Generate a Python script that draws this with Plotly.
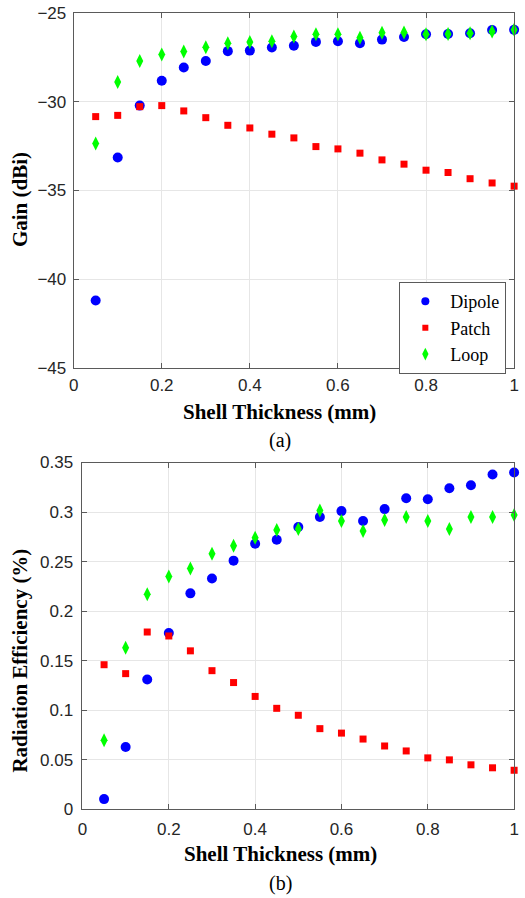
import plotly.graph_objects as go

thickness = [0.05, 0.1, 0.15, 0.2, 0.25, 0.3, 0.35, 0.4, 0.45, 0.5,
             0.55, 0.6, 0.65, 0.7, 0.75, 0.8, 0.85, 0.9, 0.95, 1.0]

# gain (dBi)
gain_dipole = [-41.2, -33.15, -30.22, -28.82, -28.07, -27.71, -27.15, -27.12, -26.95, -26.85,
               -26.63, -26.59, -26.7, -26.5, -26.35, -26.2, -26.18, -26.14, -25.96, -25.95]
gain_patch = [-30.84, -30.77, -30.28, -30.22, -30.52, -30.9, -31.33, -31.48, -31.83, -32.04,
              -32.53, -32.66, -32.9, -33.28, -33.52, -33.86, -33.99, -34.34, -34.58, -34.76]
gain_loop = [-32.36, -28.89, -27.71, -27.34, -27.17, -26.93, -26.7, -26.63, -26.59, -26.33,
             -26.2, -26.2, -26.39, -26.12, -26.1, -26.2, -26.18, -26.14, -26.05, -25.95]

# radiation efficiency
eff_dipole = [0.0104, 0.063, 0.131, 0.178, 0.218, 0.233, 0.251, 0.268, 0.272, 0.285,
              0.295, 0.301, 0.291, 0.303, 0.314, 0.313, 0.324, 0.327, 0.338, 0.340]
eff_patch = [0.146, 0.137, 0.179, 0.175, 0.160, 0.140, 0.128, 0.114, 0.102, 0.095,
             0.0815, 0.077, 0.071, 0.064, 0.059, 0.052, 0.050, 0.045, 0.042, 0.0395]
eff_loop = [0.0697, 0.163, 0.217, 0.235, 0.243, 0.258, 0.266, 0.274, 0.282, 0.283,
            0.3015, 0.291, 0.281, 0.292, 0.295, 0.291, 0.283, 0.295, 0.295, 0.297]

x_ticks = [0, 0.2, 0.4, 0.6, 0.8, 1]
x_labels = ['0', '0.2', '0.4', '0.6', '0.8', '1']
gain_ticks = [-45, -40, -35, -30, -25]
eff_ticks = [0, 0.05, 0.1, 0.15, 0.2, 0.25, 0.3, 0.35]
eff_labels = ['0', '0.05', '0.1', '0.15', '0.2', '0.25', '0.3', '0.35']

W, H = 525, 898

# the snapshot comes out slightly squashed vertically, so stretch a touch
SY, BY = 0.982, 7.0


def fx(px):
    return px / W


def fy(py):
    return 1 - ((py - BY) / SY) / H


serif = 'Liberation Serif, Times New Roman, serif'
sans = 'Liberation Sans, Arial, sans-serif'
ink = '#262626'

styles = {
    'Dipole': dict(symbol='circle', color='#0000ff'),
    'Patch': dict(symbol='square', color='#ff0000'),
    'Loop': dict(symbol='diamond-tall', color='#00ff00'),
}
plot_size = {'Dipole': 10, 'Patch': 7, 'Loop': 10}
legend_size = {'Dipole': 8, 'Patch': 6, 'Loop': 9}

fig = go.Figure()
for name, ys in [('Dipole', gain_dipole), ('Patch', gain_patch), ('Loop', gain_loop)]:
    fig.add_trace(go.Scatter(x=thickness, y=ys, mode='markers', name=name, showlegend=False,
                             marker=dict(**styles[name], size=plot_size[name], line=dict(width=0)),
                             cliponaxis=False, xaxis='x', yaxis='y'))
for name, ys in [('Dipole', eff_dipole), ('Patch', eff_patch), ('Loop', eff_loop)]:
    fig.add_trace(go.Scatter(x=thickness, y=ys, mode='markers', name=name, showlegend=False,
                             marker=dict(**styles[name], size=plot_size[name], line=dict(width=0)),
                             cliponaxis=False, xaxis='x2', yaxis='y2'))
# legend entries with the smaller legend glyphs
for name in ['Dipole', 'Patch', 'Loop']:
    fig.add_trace(go.Scatter(x=[None], y=[None], mode='markers', name=name,
                             marker=dict(**styles[name], size=legend_size[name], line=dict(width=0)),
                             xaxis='x', yaxis='y'))

axis_common = dict(showline=True, linecolor='#5a5a5a', linewidth=1, mirror='ticks',
                   ticks='inside', ticklen=5, tickcolor='#5a5a5a',
                   showgrid=True, gridcolor='#e6e6e6', gridwidth=1, zeroline=False,
                   tickfont=dict(family=sans, size=17, color=ink))

fig.update_layout(
    width=W, height=H,
    margin=dict(l=0, r=0, t=0, b=0),
    paper_bgcolor='white', plot_bgcolor='white',
    xaxis=dict(domain=[fx(70), fx(519)], anchor='y', range=[0, 1],
               tickvals=x_ticks, ticktext=x_labels, ticklabelstandoff=2, **axis_common),
    yaxis=dict(domain=[fy(367), fy(11)], anchor='x', range=[-45, -25],
               tickvals=gain_ticks, ticklabelstandoff=3, **axis_common),
    xaxis2=dict(domain=[fx(79), fx(519)], anchor='y2', range=[0, 1],
                tickvals=x_ticks, ticktext=x_labels, ticklabelstandoff=4, **axis_common),
    yaxis2=dict(domain=[fy(810), fy(462)], anchor='x2', range=[0, 0.35],
                tickvals=eff_ticks, ticktext=eff_labels, ticklabelstandoff=5, **axis_common),
    legend=dict(x=fx(402), y=fy(281), xanchor='left', yanchor='top',
                bgcolor='white', bordercolor='#5a5a5a', borderwidth=1,
                font=dict(family=serif, size=18, color='black'),
                itemsizing='trace', itemwidth=40),
    showlegend=True,
)

titles = [
    ('<b>Shell Thickness (mm)</b>', 280, 411, 0),
    ('<b>Gain (dBi)</b>', 16, 198, -90),
    ('<b>Shell Thickness (mm)</b>', 281, 855, 0),
    ('<b>Radiation Efficiency (%)</b>', 15, 661, -90),
]
for text, px, py, ang in titles:
    fig.add_annotation(text=text, x=fx(px), y=fy(py), xref='paper', yref='paper',
                       xanchor='center', yanchor='middle', showarrow=False, textangle=ang,
                       font=dict(family=serif, size=21, color='black'))

for text, px, py in [('(a)', 280, 440), ('(b)', 281, 884)]:
    fig.add_annotation(text=text, x=fx(px), y=fy(py), xref='paper', yref='paper',
                       xanchor='center', yanchor='middle', showarrow=False,
                       font=dict(family=serif, size=20, color='black'))

# drop the default body margin so the figure sits at the page origin
fig.write_html("out.html", config={'displayModeBar': False},
               post_script="document.body.style.margin='0';")
